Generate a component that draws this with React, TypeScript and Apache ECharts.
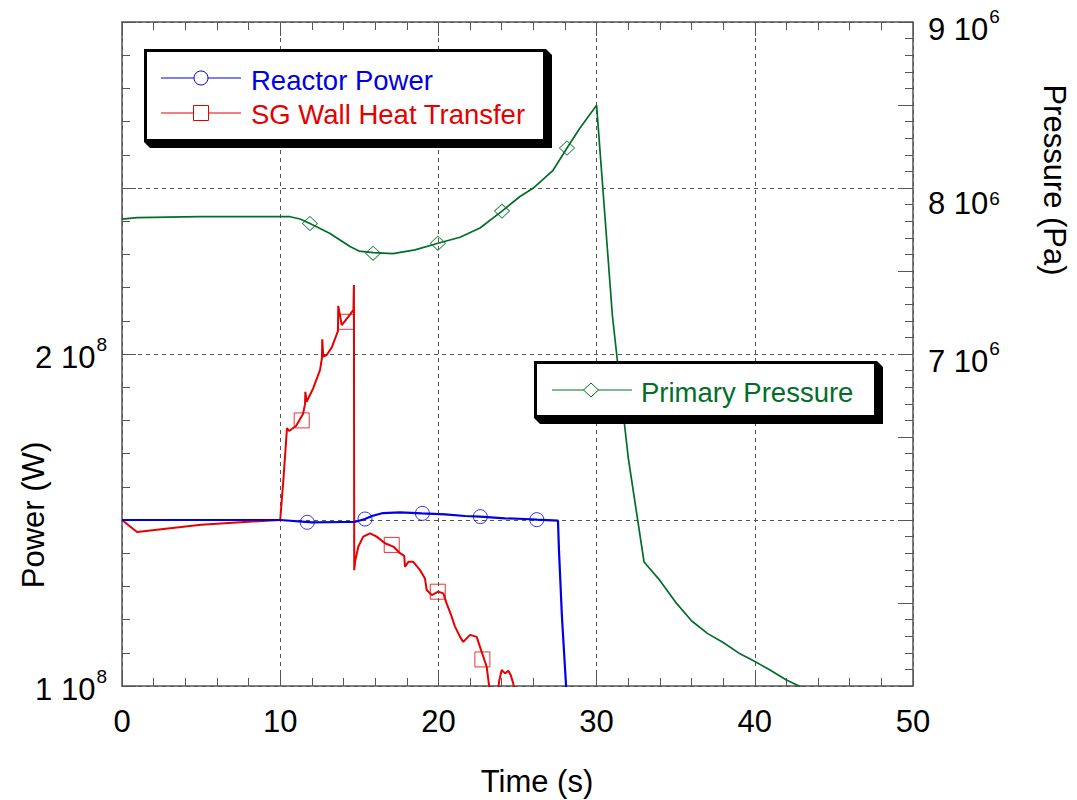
import React, { useEffect, useRef } from 'react';
import * as echarts from 'echarts';

const BLUE = '#0000e6';
const RED = '#e60000';
const GREEN = '#006e28';
const AXIS = '#555555';
const FONT = '"Liberation Sans", Arial, Helvetica, sans-serif';

// Reactor Power (W)
const powerTime = [0, 10, 12, 14.1, 14.7, 15.36, 15.8, 16.5, 17.57, 18.96, 20.42, 21.68, 22.63, 24.2, 25.47, 26.23, 27.56, 27.62, 27.81, 28.07, 28.3];
const powerValues = [1.5e8, 1.5e8, 1.493e8, 1.494e8, 1.494e8, 1.503e8, 1.512e8, 1.521e8, 1.523e8, 1.52e8, 1.517e8, 1.512e8, 1.51e8, 1.505e8, 1.503e8, 1.501e8, 1.498e8, 1.41e8, 1.208e8, 1.0e8, 0.85e8];
const powerMarkTime = [11.71, 15.36, 18.99, 22.65, 26.22];
const powerMarkValues = [1.493e8, 1.503e8, 1.52e8, 1.51e8, 1.501e8];

// SG Wall Heat Transfer (W)
const sgTime = [0, 0.95, 5, 8, 10.0, 10.2, 10.43, 10.56, 11.0, 11.44, 11.57, 11.59, 11.67, 12.09, 12.52, 12.64, 12.66, 12.72, 12.94, 13.26, 13.65, 13.67, 13.89, 14.3, 14.63, 14.66, 14.68, 14.73, 14.94, 15.25, 15.68, 16.1, 16.62, 17.15, 17.57, 17.84, 17.89, 18.1, 18.41, 18.84, 19.15, 19.26, 19.58, 19.99, 20.31, 20.52, 20.8, 21.05, 21.37, 21.57, 22.0, 22.42, 22.63, 22.84, 23.05, 23.2, 23.4, 23.75, 23.83, 24.0, 24.21, 24.42, 24.57, 24.73, 24.9, 26];
const sgValues = [1.5e8, 1.464e8, 1.486e8, 1.495e8, 1.5e8, 1.62e8, 1.777e8, 1.768e8, 1.783e8, 1.819e8, 1.849e8, 1.886e8, 1.856e8, 1.897e8, 1.952e8, 1.988e8, 2.044e8, 1.992e8, 1.997e8, 2.02e8, 2.069e8, 2.145e8, 2.087e8, 2.112e8, 2.133e8, 2.208e8, 1.349e8, 1.374e8, 1.42e8, 1.45e8, 1.46e8, 1.45e8, 1.43e8, 1.42e8, 1.4e8, 1.392e8, 1.359e8, 1.374e8, 1.374e8, 1.349e8, 1.324e8, 1.289e8, 1.274e8, 1.284e8, 1.279e8, 1.249e8, 1.214e8, 1.179e8, 1.148e8, 1.133e8, 1.154e8, 1.148e8, 1.118e8, 1.088e8, 1.058e8, 1.003e8, 0.96e8, 0.97e8, 1.013e8, 1.048e8, 1.038e8, 1.046e8, 1.033e8, 1.008e8, 0.96e8, 0.9e8];
const sgMarkTime = [11.36, 14.16, 17.05, 19.96, 22.78];
const sgMarkValues = [1.8e8, 2.097e8, 1.425e8, 1.284e8, 1.08e8];

// Primary Pressure (Pa)
const pressureTime = [0, 0.95, 4.9, 10.62, 11.25, 11.88, 13.15, 14.41, 14.98, 15.87, 17.13, 18.52, 19.97, 21.37, 22.63, 24.02, 25.16, 25.98, 27.23, 28.13, 28.95, 30.0, 31.0, 32.0, 33.0, 34.0, 35.0, 36.0, 37.0, 38.0, 39.0, 39.95, 40.96, 42.0, 42.8, 44.0];
const pressureValues = [7.813e6, 7.822e6, 7.828e6, 7.827e6, 7.813e6, 7.786e6, 7.726e6, 7.648e6, 7.62e6, 7.611e6, 7.605e6, 7.627e6, 7.667e6, 7.703e6, 7.759e6, 7.861e6, 7.949e6, 7.998e6, 8.104e6, 8.241e6, 8.361e6, 8.498e6, 7.229e6, 6.375e6, 5.747e6, 5.636e6, 5.504e6, 5.393e6, 5.317e6, 5.262e6, 5.198e6, 5.151e6, 5.096e6, 5.036e6, 5.0e6, 4.93e6];
const pressureMarkTime = [11.88, 15.87, 19.97, 24.02, 28.13];
const pressureMarkValues = [7.786e6, 7.607e6, 7.667e6, 7.861e6, 8.241e6];

// Axis ticks / labels
const xTicks = { min: 0, max: 50, interval: 10 };
const powerAxis = { min: 1e8, max: 3e8, interval: 5e7 };
const powerLabels = [1e8, 2e8];
const pressureAxis = { min: 5e6, max: 9e6, interval: 5e5 };
const pressureLabels = [7e6, 8e6, 9e6];
const pressureLowLabel = 8e6;

const zip = (a: number[], b: number[]) => a.map((v, i) => [v, b[i]]);

const sciLabel = (value: number, list: number[], exp: number, lowValue?: number) => {
  if (!list.some((v) => Math.abs(v - value) < 1)) return '';
  const mant = Math.round(value / Math.pow(10, exp));
  const low = lowValue !== undefined && Math.abs(value - lowValue) < 1;
  return low ? `{m|${mant} 10}{t|${exp}}` : `{n|${mant} 10}{s|${exp}}`;
};

const richStyles = {
  n: { fontSize: 31, lineHeight: 44, color: '#000', fontFamily: FONT },
  s: { fontSize: 19, lineHeight: 19, color: '#000', fontFamily: FONT, verticalAlign: 'top' as const, padding: [0, 0, 0, 1] },
  m: { fontSize: 31, lineHeight: 44, color: '#000', fontFamily: FONT, padding: [16, 0, 0, 0] },
  t: { fontSize: 19, lineHeight: 19, color: '#000', fontFamily: FONT, verticalAlign: 'top' as const, padding: [16, 0, 0, 1] },
};

const tickCommon = (len: number) => ({
  axisLine: { show: true, onZero: false, lineStyle: { color: AXIS, width: 1.5 } },
  axisTick: { show: true, inside: true, length: len, lineStyle: { color: AXIS, width: 1 } },
  minorTick: { show: true, splitNumber: 5, length: 8, lineStyle: { color: AXIS, width: 1 } },
});

export default function App() {
  const ref = useRef<HTMLDivElement>(null);

  useEffect(() => {
    if (!ref.current) return;
    const chart = echarts.init(ref.current, undefined, { renderer: 'svg' });

    const txt = (text: string, x: number, y: number, color: string, size: number, align = 'left', rotation = 0) => ({
      type: 'text',
      x,
      y,
      rotation,
      z: 110,
      style: {
        text,
        fill: color,
        font: `${size}px ${FONT}`,
        textAlign: align,
        textVerticalAlign: 'middle',
      },
    });

    const option: any = {
      animation: false,
      backgroundColor: '#fff',
      grid: { left: 122, right: 164, top: 22, bottom: 114, containLabel: false },
      xAxis: [
        {
          type: 'value',
          position: 'bottom',
          ...xTicks,
          ...tickCommon(14),
          axisLabel: { fontSize: 31, color: '#000', fontFamily: FONT, margin: 20 },
          splitLine: { show: true, lineStyle: { color: AXIS, type: [4, 4], width: 1 } },
        },
        {
          type: 'value',
          position: 'top',
          ...xTicks,
          ...tickCommon(14),
          axisLabel: { show: false },
          splitLine: { show: false },
        },
      ],
      yAxis: [
        {
          type: 'value',
          position: 'left',
          ...powerAxis,
          ...tickCommon(14),
          axisLabel: {
            margin: 15,
            padding: [6, 0, 0, 0],
            formatter: (v: number) => sciLabel(v, powerLabels, 8),
            rich: richStyles,
          },
          splitLine: { show: true, lineStyle: { color: AXIS, type: [4, 4], width: 1 } },
        },
        {
          type: 'value',
          position: 'right',
          ...pressureAxis,
          ...tickCommon(15),
          axisLabel: {
            margin: 15,
            padding: [14, 0, 0, 0],
            formatter: (v: number) => sciLabel(v, pressureLabels, 6, pressureLowLabel),
            rich: richStyles,
          },
          splitLine: { show: false },
        },
      ],
      series: [
        {
          name: 'SG Wall Heat Transfer',
          type: 'line',
          yAxisIndex: 0,
          data: zip(sgTime, sgValues),
          symbol: 'none',
          lineStyle: { color: RED, width: 2 },
          z: 3,
        },
        {
          type: 'scatter',
          yAxisIndex: 0,
          data: zip(sgMarkTime, sgMarkValues),
          symbol: 'rect',
          symbolSize: 15,
          itemStyle: { color: 'rgba(0,0,0,0)', borderColor: RED, borderWidth: 1 },
          z: 4,
        },
        {
          name: 'Reactor Power',
          type: 'line',
          yAxisIndex: 0,
          data: zip(powerTime, powerValues),
          symbol: 'none',
          lineStyle: { color: BLUE, width: 2.2 },
          z: 3,
        },
        {
          type: 'scatter',
          yAxisIndex: 0,
          data: zip(powerMarkTime, powerMarkValues),
          symbol: 'circle',
          symbolSize: 14,
          itemStyle: { color: 'rgba(0,0,0,0)', borderColor: BLUE, borderWidth: 1 },
          z: 4,
        },
        {
          name: 'Primary Pressure',
          type: 'line',
          yAxisIndex: 1,
          data: zip(pressureTime, pressureValues),
          symbol: 'none',
          lineStyle: { color: GREEN, width: 1.7 },
          z: 3,
        },
        {
          type: 'scatter',
          yAxisIndex: 1,
          data: zip(pressureMarkTime, pressureMarkValues),
          symbol: 'diamond',
          symbolSize: [15, 14],
          itemStyle: { color: 'rgba(0,0,0,0)', borderColor: GREEN, borderWidth: 1 },
          z: 4,
        },
      ],
      graphic: [
        // axis names
        txt('Time (s)', 537, 781, '#000', 31, 'center'),
        txt('Power (W)', 33, 515, '#000', 31, 'center', Math.PI / 2),
        txt('Pressure (Pa)', 1054, 180, '#000', 31, 'center', -Math.PI / 2),
        // legend box 1
        {
          type: 'polygon',
          z: 100,
          shape: { points: [[546, 49], [552, 55], [552, 148], [150, 148], [144, 142]] },
          style: { fill: '#000' },
        },
        {
          type: 'rect',
          z: 101,
          shape: { x: 145.5, y: 50.5, width: 399, height: 90 },
          style: { fill: '#fff', stroke: '#000', lineWidth: 3 },
        },
        { type: 'line', z: 102, shape: { x1: 161, y1: 78, x2: 241, y2: 78 }, style: { stroke: BLUE, lineWidth: 1 } },
        { type: 'circle', z: 103, shape: { cx: 201, cy: 78, r: 7 }, style: { fill: '#fff', stroke: BLUE, lineWidth: 1 } },
        txt('Reactor Power', 251, 80, BLUE, 27.5),
        { type: 'line', z: 102, shape: { x1: 161, y1: 113, x2: 241, y2: 113 }, style: { stroke: RED, lineWidth: 1 } },
        { type: 'rect', z: 103, shape: { x: 193.5, y: 105.5, width: 15, height: 15 }, style: { fill: '#fff', stroke: RED, lineWidth: 1 } },
        txt('SG Wall Heat Transfer', 251, 114.5, RED, 27.5),
        // legend box 2
        {
          type: 'polygon',
          z: 100,
          shape: { points: [[877, 361], [883, 367], [883, 424], [540, 424], [534, 418]] },
          style: { fill: '#000' },
        },
        {
          type: 'rect',
          z: 101,
          shape: { x: 535.5, y: 362.5, width: 340, height: 54 },
          style: { fill: '#fff', stroke: '#000', lineWidth: 3 },
        },
        { type: 'line', z: 102, shape: { x1: 552, y1: 390, x2: 632, y2: 390 }, style: { stroke: GREEN, lineWidth: 1 } },
        {
          type: 'polygon',
          z: 103,
          shape: { points: [[591, 383], [598.5, 390], [591, 397], [583.5, 390]] },
          style: { fill: '#fff', stroke: GREEN, lineWidth: 1 },
        },
        txt('Primary Pressure', 641, 392, GREEN, 27.5),
      ],
    };

    chart.setOption(option);
    return () => chart.dispose();
  }, []);

  return <div ref={ref} style={{ position: 'fixed', left: 0, top: 0, width: 1077, height: 800, background: '#fff' }} />;
}
